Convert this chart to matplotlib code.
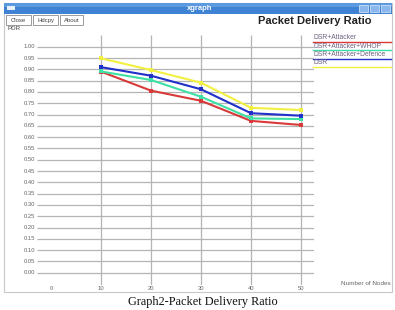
"""
xgraph 截图复刻：Packet Delivery Ratio（节点数 vs PDR）
"""

import matplotlib
matplotlib.use("Agg")
import matplotlib.pyplot as plt
import matplotlib.patches as mpatches
import numpy as np

plt.rcParams["font.family"] = ["Liberation Sans", "DejaVu Sans"]

W, H = 395, 310

# ── 数据 ──────────────────────────────────────────────────────────────────────
NODES = [10, 20, 30, 40, 50]
PDR_ATTACKER = [0.890, 0.806, 0.761, 0.672, 0.654]
PDR_WHOP     = [0.891, 0.853, 0.779, 0.683, 0.680]
PDR_DEFENCE  = [0.910, 0.872, 0.812, 0.706, 0.695]
PDR_DSR      = [0.949, 0.897, 0.841, 0.730, 0.720]

SERIES_NAMES = ["DSR+Attacker", "DSR+Attacker+WHOP",
                "DSR+Attacker+Defence", "DSR"]
SERIES_COLORS = ["#d83a3a", "#3fe0a5", "#2030c8", "#f2f040"]
SERIES_ZORDER = [4, 5, 6, 3]

YTICKS = [round(0.05 * i, 2) for i in range(21)]
XTICKS = [0, 10, 20, 30, 40, 50]

GRID = "#b4b4b4"
TXT = "#666666"


def px(x, y):
    """像素坐标 -> figure 坐标"""
    return x / W, 1 - y / H


fig = plt.figure(figsize=(W / 100, H / 100), dpi=100)
fig.patch.set_facecolor("white")

# ── 窗口外框 / 标题栏 ─────────────────────────────────────────────────────────
def rect(x0, y0, x1, y1, **kw):
    fig.patches.append(mpatches.Rectangle(px(x0, y1), (x1 - x0) / W,
                                          (y1 - y0) / H,
                                          transform=fig.transFigure,
                                          zorder=-1, **kw))

rect(4, 3, 392, 292, facecolor="white", edgecolor="#c8c8c8", linewidth=0.8)
rect(4, 3, 392, 14, facecolor="#3f82d4", edgecolor="none")
rect(4, 3, 392, 7, facecolor="#5c9ae0", edgecolor="none")
rect(7, 6, 15, 10, facecolor="#e8f0fa", edgecolor="none")
for bx in (359, 370, 381):
    rect(bx, 5, bx + 9, 12, facecolor="#8ab8ec", edgecolor="#dfeafa",
         linewidth=0.5)
fig.text(*px(200, 8.5), "xgraph", color="white", fontsize=5.5,
         fontweight="bold", ha="center", va="center")

# 按钮
for label, x0, x1 in [("Close", 6, 31), ("Hdcpy", 33, 58), ("About", 60, 83)]:
    rect(x0, 15, x1, 25, facecolor="white", edgecolor="#8a8a8a",
         linewidth=0.6)
    fig.text(*px((x0 + x1) / 2, 20.3), label, fontsize=4.3, color="#444",
             ha="center", va="center")

fig.text(*px(8, 29), "PDR", fontsize=4.5, color="#444", ha="left",
         va="center")
fig.text(*px(372, 20.5), "Packet Delivery Ratio", fontsize=8,
         fontweight="bold", color="#222", ha="right", va="center")

# ── 主坐标区 ──────────────────────────────────────────────────────────────────
AX_L, AX_R, AX_T, AX_B = 36, 314, 35, 285
X0 = 51.0          # 节点数 0 的像素位置
XS = 5.0           # 每个节点的像素
Y0 = 272.7         # PDR 0 的像素位置
YS = 225.9         # PDR 1.0 对应的像素
xlim = ((AX_L - X0) / XS, (AX_R - X0) / XS)
ylim = ((Y0 - AX_B) / YS, (Y0 - AX_T) / YS)

ax = fig.add_axes([AX_L / W, 1 - AX_B / H, (AX_R - AX_L) / W,
                   (AX_B - AX_T) / H])
ax.set_zorder(5)
ax.set_xlim(*xlim)
ax.set_ylim(*ylim)
ax.axis("off")

ax.hlines(YTICKS, (37 - X0) / XS, xlim[1], colors=GRID, linewidth=0.9,
          zorder=1)
ax.vlines(XTICKS[1:], ylim[0], ylim[1], colors=GRID, linewidth=0.9,
          zorder=1)

for yv in YTICKS:
    ax.text((35 - X0) / XS, yv, f"{yv:.2f}", fontsize=4.2, color=TXT,
            ha="right", va="center", clip_on=False)
for xv in XTICKS:
    ax.text(xv, (Y0 - 288) / YS, f"{xv}", fontsize=4.2, color=TXT,
            ha="center", va="center", clip_on=False)
ax.text((391 - X0) / XS, (Y0 - 283.5) / YS, "Number of Nodes", fontsize=4.6,
        color=TXT, ha="right", va="center", clip_on=False)

for vals, c, z in zip([PDR_ATTACKER, PDR_WHOP, PDR_DEFENCE, PDR_DSR],
                      SERIES_COLORS, SERIES_ZORDER):
    ax.plot(NODES, vals, color=c, linewidth=1.5, marker="s", markersize=2.6,
            markeredgewidth=0, zorder=z)

# ── 图例（xgraph 风格：文字 + 下方彩线）─────────────────────────────────────
for i, (name, c) in enumerate(zip(SERIES_NAMES, SERIES_COLORS)):
    ty = 37.5 + 8.5 * i
    fig.text(*px(314, ty), name, fontsize=4.9, color="#6c6080",
             ha="left", va="center")
    fig.lines.append(plt.Line2D([313 / W, 391 / W],
                                [1 - (ty + 4.3) / H] * 2,
                                transform=fig.transFigure, color=c,
                                linewidth=1.0))

# ── 图注 ──────────────────────────────────────────────────────────────────────
fig.text(*px(203, 302), "Graph2-Packet Delivery Ratio", fontsize=8.8,
         family="Liberation Serif", color="#111", ha="center", va="center")

fig.savefig("out.png", dpi=100, facecolor=fig.get_facecolor())
plt.close(fig)
